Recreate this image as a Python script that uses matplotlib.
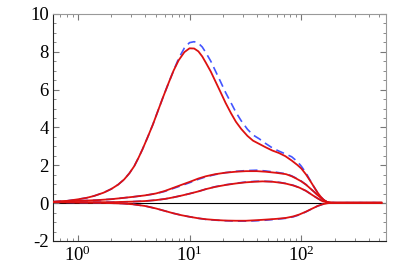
import numpy as np
import matplotlib.pyplot as plt
from matplotlib.ticker import MultipleLocator, LogLocator, NullFormatter

plt.rcParams['font.family'] = ['Liberation Serif', 'DejaVu Serif']
plt.rcParams['mathtext.fontset'] = 'stix'
plt.rcParams['axes.unicode_minus'] = False

# curve 1 (big peak)
x1 = [0.6, 0.8, 1.0, 1.2, 1.4, 1.7, 2.0, 2.3, 2.6, 2.9, 3.2, 3.5, 3.8, 4.2, 4.7, 5.2, 5.8,
      6.5, 7.2, 8.0, 9.0, 10, 11, 12, 13, 14, 15.5, 17, 19, 21, 23.5, 26, 29, 33, 37, 42,
      48, 55, 63, 72, 82, 92, 100, 110, 120, 130, 140, 150, 160, 170, 180, 200, 520]
red1 = [0.07, 0.12, 0.2, 0.28, 0.38, 0.55, 0.75, 0.98, 1.25, 1.58, 1.95, 2.4, 2.85, 3.45, 4.15,
        4.85, 5.6, 6.35, 7.0, 7.55, 7.98, 8.18, 8.17, 8.02, 7.75, 7.42, 6.95, 6.45, 5.85, 5.3,
        4.75, 4.3, 3.92, 3.55, 3.3, 3.13, 2.95, 2.78, 2.65, 2.48, 2.25, 2.02, 1.83, 1.52, 1.18,
        0.85, 0.55, 0.32, 0.15, 0.06, 0.03, 0.02, 0.02]
blue1 = [0.07, 0.12, 0.2, 0.28, 0.38, 0.55, 0.75, 0.98, 1.25, 1.58, 1.95, 2.4, 2.85, 3.45, 4.15,
         4.85, 5.6, 6.35, 7.0, 7.65, 8.2, 8.48, 8.53, 8.45, 8.25, 7.95, 7.5, 7.0, 6.4, 5.85,
         5.3, 4.8, 4.35, 3.9, 3.6, 3.4, 3.15, 2.92, 2.75, 2.6, 2.45, 2.2, 1.95, 1.6, 1.2,
         0.85, 0.55, 0.32, 0.15, 0.06, 0.03, 0.02, 0.02]

# curve 2
x2 = [0.6, 1.0, 1.5, 2.0, 2.5, 3.1, 4.0, 5.0, 6.0, 7.1, 8.5, 10, 12, 14, 17, 21, 26, 32, 40,
      48, 60, 73, 82, 90, 100, 110, 120, 130, 140, 155, 170, 185, 520]
red2 = [0.07, 0.12, 0.16, 0.21, 0.27, 0.33, 0.41, 0.51, 0.64, 0.8, 0.97, 1.12, 1.3, 1.42, 1.53,
        1.61, 1.66, 1.69, 1.69, 1.66, 1.6, 1.53, 1.42, 1.3, 1.15, 0.98, 0.78, 0.6, 0.42, 0.2,
        0.06, 0.02, 0.02]
blue2 = [0.07, 0.12, 0.16, 0.21, 0.27, 0.33, 0.41, 0.5, 0.62, 0.77, 0.93, 1.08, 1.26, 1.39, 1.51,
         1.61, 1.68, 1.72, 1.74, 1.7, 1.63, 1.55, 1.44, 1.32, 1.16, 0.98, 0.78, 0.6, 0.42, 0.2,
         0.06, 0.02, 0.02]

# curve 3
x3 = [0.6, 1.0, 1.5, 2.0, 3.1, 4.0, 5.0, 6.0, 7.1, 8.5, 10, 12, 14, 17, 21, 26, 32, 38, 45,
      55, 65, 73, 85, 96, 110, 126, 140, 155, 170, 185, 520]
red3 = [0.07, 0.05, 0.05, 0.05, 0.08, 0.11, 0.16, 0.22, 0.3, 0.4, 0.5, 0.62, 0.74, 0.86, 0.96,
        1.04, 1.1, 1.13, 1.15, 1.13, 1.08, 1.03, 0.93, 0.82, 0.65, 0.42, 0.25, 0.1, 0.04, 0.02, 0.02]
blue3 = [0.07, 0.05, 0.05, 0.05, 0.08, 0.11, 0.16, 0.22, 0.3, 0.4, 0.5, 0.62, 0.74, 0.87, 0.97,
         1.05, 1.12, 1.15, 1.16, 1.14, 1.09, 1.04, 0.94, 0.82, 0.65, 0.42, 0.25, 0.1, 0.04, 0.02, 0.02]

# curve 4 (negative)
x4 = [0.6, 1.0, 1.5, 2.0, 2.5, 3.1, 4.0, 5.0, 6.0, 7.1, 8.5, 10, 12, 14, 17, 21, 26, 32, 40,
      48, 60, 73, 85, 96, 110, 126, 140, 155, 170, 185, 520]
red4 = [0.05, 0.03, 0.02, 0.0, -0.02, -0.06, -0.15, -0.28, -0.41, -0.53, -0.64, -0.72, -0.8,
        -0.85, -0.89, -0.92, -0.93, -0.93, -0.9, -0.87, -0.83, -0.78, -0.7, -0.6, -0.45, -0.28,
        -0.15, -0.06, -0.01, 0.02, 0.02]
blue4 = [0.05, 0.03, 0.02, 0.0, -0.02, -0.06, -0.15, -0.28, -0.41, -0.53, -0.64, -0.72, -0.8,
         -0.86, -0.9, -0.93, -0.95, -0.95, -0.93, -0.9, -0.85, -0.8, -0.72, -0.62, -0.46, -0.28,
         -0.15, -0.06, -0.01, 0.02, 0.02]

fig = plt.figure(figsize=(4.07, 2.72), dpi=100)
ax = fig.add_axes([0.130, 0.114, 0.818, 0.835])

ax.axhline(0, color='black', lw=0.8, zorder=1)

blue = '#4455ff'
red = '#dd1111'
for x, b in [(x1, blue1), (x2, blue2), (x3, blue3), (x4, blue4)]:
    ax.plot(x, b, color=blue, lw=1.2, dashes=(5, 3), zorder=2)
for x, r in [(x1, red1), (x2, red2), (x3, red3), (x4, red4)]:
    ax.plot(x, r, color=red, lw=1.3, zorder=3)

ax.set_xscale('log')
ax.set_xlim(0.6, 570)
ax.set_ylim(-2, 10)
ax.yaxis.set_major_locator(MultipleLocator(2))
ax.yaxis.set_minor_locator(MultipleLocator(0.5))
ax.xaxis.set_major_locator(LogLocator(base=10))
ax.xaxis.set_minor_locator(LogLocator(base=10, subs=np.arange(2, 10)))
ax.xaxis.set_minor_formatter(NullFormatter())

ax.tick_params(which='both', direction='in', top=True, right=True, labelsize=13.5,
               color='#777777', pad=3)
ax.tick_params(which='major', length=4)
ax.tick_params(which='minor', length=2)
ax.spines['left'].set_color('#222222')
ax.spines['bottom'].set_color('#222222')
ax.spines['top'].set_color('#999999')
ax.spines['right'].set_color('#999999')

fig.savefig('out.png', dpi=100)
